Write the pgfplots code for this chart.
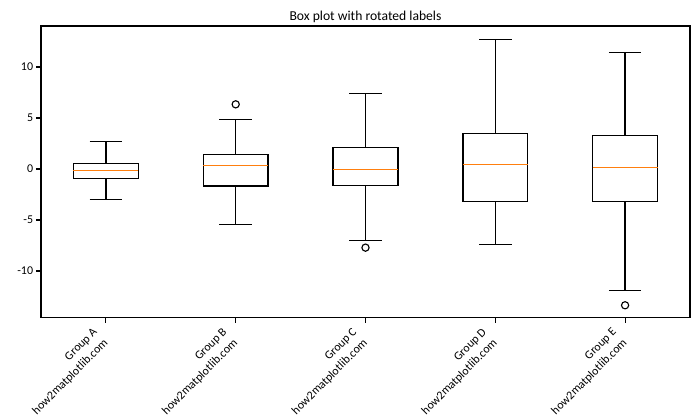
\documentclass[border=0pt]{standalone}
\usepackage{fontspec}
\setmainfont{Carlito}
\usepackage{pgfplots}
\pgfplotsset{compat=1.18}
\usepgfplotslibrary{statistics}
\definecolor{mplorange}{HTML}{FF7F0E}
\newcommand\lab[1]{\begin{tabular}{@{}r@{}}#1\\how2matplotlib.com\end{tabular}}
\begin{document}
\begin{tikzpicture}
\path[use as bounding box] (-29.52pt,-73.44pt) rectangle (474.5pt,228.92pt);
\begin{axis}[
  at={(0,0)}, anchor=south west,
  scale only axis, width=467.3pt, height=210.2pt,
  xmin=0.5, xmax=5.5, ymin=-14.6, ymax=14.02,
  xtick={1,2,3,4,5},
  xticklabels={\lab{Group A},\lab{Group B},\lab{Group C},\lab{Group D},\lab{Group E}},
  xticklabel style={xshift=-11.5pt, yshift=-1.5pt, rotate=45, anchor=north east, inner sep=0pt, font=\fontsize{8.6}{11}\selectfont},
  ytick={-10,-5,0,5,10},
  yticklabel style={font=\fontsize{8.6}{10}\selectfont, inner sep=2pt},
  /pgf/number format/assume math mode=true,
  tick pos=left, tick align=outside, major tick length=3.5pt,
  every tick/.style={black, line width=0.8pt},
  axis line style={black, line width=0.8pt},
  title={Box plot with rotated labels},
  title style={font=\fontsize{9.8}{12}\selectfont, yshift=-7pt},
  boxplot/draw direction=y,
  boxplot/every median/.style={draw=mplorange, line width=1pt},
  every axis plot/.append style={black, line width=1pt, mark=o, mark size=2.6pt, mark options={black, line width=0.8pt, fill=none}},
]
\addplot[boxplot prepared={draw position=1, lower whisker=-2.97, lower quartile=-0.91, median=-0.13, upper quartile=0.56, upper whisker=2.72, box extend=0.5, whisker extend=0.25}] coordinates {};
\addplot[boxplot prepared={draw position=2, lower whisker=-5.42, lower quartile=-1.67, median=0.36, upper quartile=1.44, upper whisker=4.87, box extend=0.5, whisker extend=0.25}] coordinates {(2,6.34)};
\addplot[boxplot prepared={draw position=3, lower whisker=-6.99, lower quartile=-1.6, median=-0.03, upper quartile=2.13, upper whisker=7.42, box extend=0.5, whisker extend=0.25}] coordinates {(3,-7.71)};
\addplot[boxplot prepared={draw position=4, lower whisker=-7.38, lower quartile=-3.17, median=0.46, upper quartile=3.5, upper whisker=12.71, box extend=0.5, whisker extend=0.25}] coordinates {};
\addplot[boxplot prepared={draw position=5, lower whisker=-11.89, lower quartile=-3.17, median=0.16, upper quartile=3.3, upper whisker=11.44, box extend=0.5, whisker extend=0.25}] coordinates {(5,-13.36)};
\end{axis}
\end{tikzpicture}
\end{document}
